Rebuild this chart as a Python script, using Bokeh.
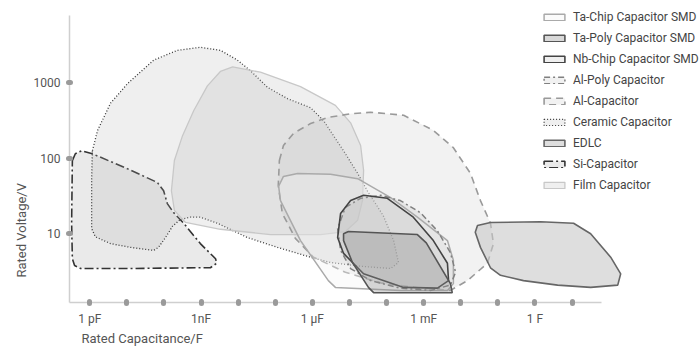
from bokeh.plotting import figure
from bokeh.models import (Range1d, FixedTicker, Legend, LegendItem, Title)
from bokeh.embed import file_html
from bokeh.resources import INLINE

FONT = "Roboto"

# ---- axis ticks ----
x_decades = [-12, -11, -10, -9, -8, -7, -6, -5, -4, -3, -2, -1, 0, 1]
x_tick_labels = {-12: "1 pF", -9: "1nF", -6: "1 µF", -3: "1 mF", 0: "1 F"}
y_ticks = [10, 100, 1000]
y_tick_labels = ["10", "100", "1000"]

# ---- outlines (log10 capacitance in F, log10 voltage in V) ----
si_logC = [-12.47, -12.39, -12.22, -11.93, -10.98, -10.18, -10.01, -9.91, -9.74, -9.47,
           -9.02, -8.61, -8.58, -8.75, -9.02, -10.98, -12.25, -12.41, -12.47, -12.49]
si_logV = [1.97, 2.06, 2.10, 2.06, 1.86, 1.68, 1.57, 1.40, 1.28, 1.14,
           0.87, 0.67, 0.61, 0.55, 0.55, 0.54, 0.54, 0.58, 0.67, 1.14]

cer_logC = [-11.93, -11.79, -11.44, -10.98, -10.28, -9.64, -9.02, -8.48, -8.02, -7.67,
            -7.21, -6.67, -6.05, -5.70, -5.16, -4.78, -4.52, -4.09, -3.81, -3.68,
            -3.89, -4.70, -5.51, -6.05, -6.94, -7.75, -8.56, -9.02, -9.29, -9.56,
            -9.77, -9.96, -10.15, -10.28, -10.90, -11.44, -11.85, -11.95, -11.95]
cer_logV = [2.10, 2.37, 2.73, 2.99, 3.30, 3.43, 3.47, 3.43, 3.30, 3.16,
            2.94, 2.79, 2.67, 2.50, 2.10, 1.80, 1.57, 1.24, 0.91, 0.62,
            0.54, 0.57, 0.62, 0.69, 0.82, 0.95, 1.14, 1.22, 1.22, 1.19,
            1.10, 0.95, 0.82, 0.78, 0.82, 0.87, 0.96, 1.07, 1.71]

film_logC = [-8.15, -7.40, -6.32, -5.38, -4.97, -4.70, -4.62, -4.65, -4.78, -5.11,
             -5.78, -7.13, -8.48, -9.42, -9.72, -9.80, -9.72, -9.50, -9.20, -8.83, -8.48]
film_logV = [3.21, 3.14, 2.95, 2.70, 2.47, 2.17, 1.84, 1.44, 1.18, 1.03,
             0.99, 0.99, 1.06, 1.15, 1.31, 1.57, 1.97, 2.30, 2.63, 2.96, 3.15]

alcap_logC = [-6.89, -6.78, -6.51, -6.05, -5.59, -4.97, -4.43, -3.54, -2.74, -2.20,
              -1.74, -1.47, -1.20, -1.12, -1.28, -1.82, -2.28, -3.09, -4.16, -5.11,
              -5.97, -6.46, -6.81, -6.92]
alcap_logV = [1.97, 2.17, 2.33, 2.46, 2.54, 2.59, 2.61, 2.57, 2.37, 2.14,
              1.80, 1.44, 1.14, 0.87, 0.61, 0.38, 0.25, 0.28, 0.35, 0.49,
              0.69, 0.94, 1.27, 1.64]

tachip_logC = [-6.91, -6.78, -6.40, -5.51, -4.78, -3.89, -3.17, -2.36, -2.20, -2.20,
               -2.36, -3.63, -5.38, -5.57, -6.32, -6.86]
tachip_logV = [1.63, 1.76, 1.80, 1.79, 1.73, 1.48, 1.22, 0.91, 0.65, 0.34,
               0.25, 0.25, 0.29, 0.38, 0.91, 1.44]

edlc_logC = [-1.55, -1.20, 0.15, 1.04, 1.50, 2.04, 2.31, 2.23, 1.50, 0.61,
             -0.31, -0.93, -1.20, -1.47, -1.61]
edlc_logV = [1.11, 1.15, 1.16, 1.14, 1.00, 0.69, 0.47, 0.32, 0.29, 0.32,
             0.38, 0.45, 0.55, 0.82, 1.02]

alpoly_logC = [-5.11, -4.70, -4.16, -3.63, -3.09, -2.63, -2.28, -2.14, -2.28, -2.82,
               -3.63, -4.43, -4.97, -5.24, -5.32]
alpoly_logV = [1.35, 1.47, 1.51, 1.44, 1.28, 1.04, 0.75, 0.49, 0.32, 0.25,
               0.28, 0.38, 0.54, 0.78, 1.07]

nb_logC = [-4.97, -4.62, -3.98, -3.28, -2.74, -2.36, -2.33, -2.63, -3.54, -4.62,
           -5.16, -5.32, -5.24]
nb_logV = [1.44, 1.51, 1.47, 1.22, 0.91, 0.61, 0.38, 0.28, 0.29, 0.47,
           0.74, 0.95, 1.27]

tapoly_logC = [-5.16, -5.03, -3.17, -2.93, -2.28, -2.23, -4.35, -4.49, -4.92, -5.16]
tapoly_logV = [1.00, 1.03, 0.99, 0.88, 0.34, 0.22, 0.22, 0.29, 0.62, 0.91]

p = figure(width=699, height=347, x_axis_type="log", y_axis_type="log",
           x_range=Range1d(10 ** -12.547, 10 ** 4.434),
           y_range=Range1d(10 ** 0.090, 10 ** 4.090),
           output_backend="svg", toolbar_location=None,
           min_border_left=69, min_border_bottom=45, min_border_top=0, min_border_right=0)
p.outline_line_color = None
p.xgrid.visible = False
p.ygrid.visible = False
p.background_fill_color = "white"


def pts(lc, lv):
    return [10 ** v for v in lc], [10 ** v for v in lv]


r_si = p.patch(*pts(si_logC, si_logV), fill_color="#a8a8a8", fill_alpha=0.24,
               line_color="#333333", line_width=1.6, line_dash="9 3 2 3")
r_cer = p.patch(*pts(cer_logC, cer_logV), fill_color="#b0b0b0", fill_alpha=0.2,
                line_color="#3a3a3a", line_width=1.3, line_dash="1 2")
r_film = p.patch(*pts(film_logC, film_logV), fill_color="#b0b0b0", fill_alpha=0.2,
                 line_color="#c8c8c8", line_width=1.3)
r_alcap = p.patch(*pts(alcap_logC, alcap_logV), fill_color="#c4c4c4", fill_alpha=0.22,
                  line_color="#9a9a9a", line_width=1.6, line_dash="7 5")
r_tachip = p.patch(*pts(tachip_logC, tachip_logV), fill_color="#f4f4f4", fill_alpha=0.35,
                   line_color="#aaaaaa", line_width=1.5)
r_edlc = p.patch(*pts(edlc_logC, edlc_logV), fill_color="#c8c8c8", fill_alpha=0.6,
                 line_color="#666666", line_width=1.6)
r_alpoly = p.patch(*pts(alpoly_logC, alpoly_logV), fill_color="#b0b0b0", fill_alpha=0.18,
                   line_color="#808080", line_width=1.5, line_dash="6 3 2 3")
r_nb = p.patch(*pts(nb_logC, nb_logV), fill_color="#b0b0b0", fill_alpha=0.2,
               line_color="#444444", line_width=1.6)
r_tapoly = p.patch(*pts(tapoly_logC, tapoly_logV), fill_color="#909090", fill_alpha=0.35,
                   line_color="#555555", line_width=1.6)

# ---- axes ----
for ax in (p.xaxis[0], p.yaxis[0]):
    ax.axis_line_color = "#cfcfcf"
    ax.axis_line_width = 1.5
    ax.major_tick_line_color = "#9a9a9a"
    ax.major_tick_line_width = 5
    ax.major_tick_line_cap = "round"
    ax.major_tick_in = 1
    ax.major_tick_out = 1
    ax.minor_tick_line_color = None
    ax.major_label_text_font = FONT
    ax.major_label_text_font_size = "12px"
    ax.major_label_text_color = "#555555"
    ax.major_label_standoff = 8

xt = [10.0 ** d for d in x_decades]
p.xaxis[0].ticker = FixedTicker(ticks=xt, minor_ticks=[])
p.xaxis[0].major_label_overrides = {10.0 ** d: x_tick_labels.get(d, "") for d in x_decades}
p.xaxis[0].bounds = (10 ** -12.547, 10 ** 1.79)

p.yaxis[0].ticker = FixedTicker(ticks=[float(t) for t in y_ticks], minor_ticks=[])
p.yaxis[0].major_label_overrides = {float(t): s for t, s in zip(y_ticks, y_tick_labels)}
p.yaxis[0].bounds = (10 ** 0.090, 10 ** 3.891)

# axis titles (left-aligned like the reference)
p.add_layout(Title(text="Rated Capacitance/F", align="left", offset=12, standoff=0,
                   text_font=FONT, text_font_size="13px", text_font_style="normal",
                   text_color="#555555"), "below")
p.add_layout(Title(text="Rated Voltage/V", align="left", offset=25, standoff=4,
                   text_font=FONT, text_font_size="13px", text_font_style="normal",
                   text_color="#555555"), "left")

legend_names = ["Ta-Chip Capacitor SMD", "Ta-Poly Capacitor SMD", "Nb-Chip Capacitor SMD",
                "Al-Poly Capacitor", "Al-Capacitor", "Ceramic Capacitor", "EDLC",
                "Si-Capacitor", "Film Capacitor"]
legend_renderers = [r_tachip, r_tapoly, r_nb, r_alpoly, r_alcap, r_cer, r_edlc, r_si, r_film]
legend = Legend(items=[LegendItem(label=n, renderers=[r]) for n, r in zip(legend_names, legend_renderers)],
                location=(472, 109), padding=0, margin=0, spacing=5,
                label_height=16, glyph_height=8, glyph_width=26, label_standoff=6,
                label_text_font=FONT, label_text_font_size="12px", label_text_color="#444444",
                background_fill_alpha=0, border_line_color=None)
p.add_layout(legend)

open("out.html", "w").write(file_html(p, INLINE))
